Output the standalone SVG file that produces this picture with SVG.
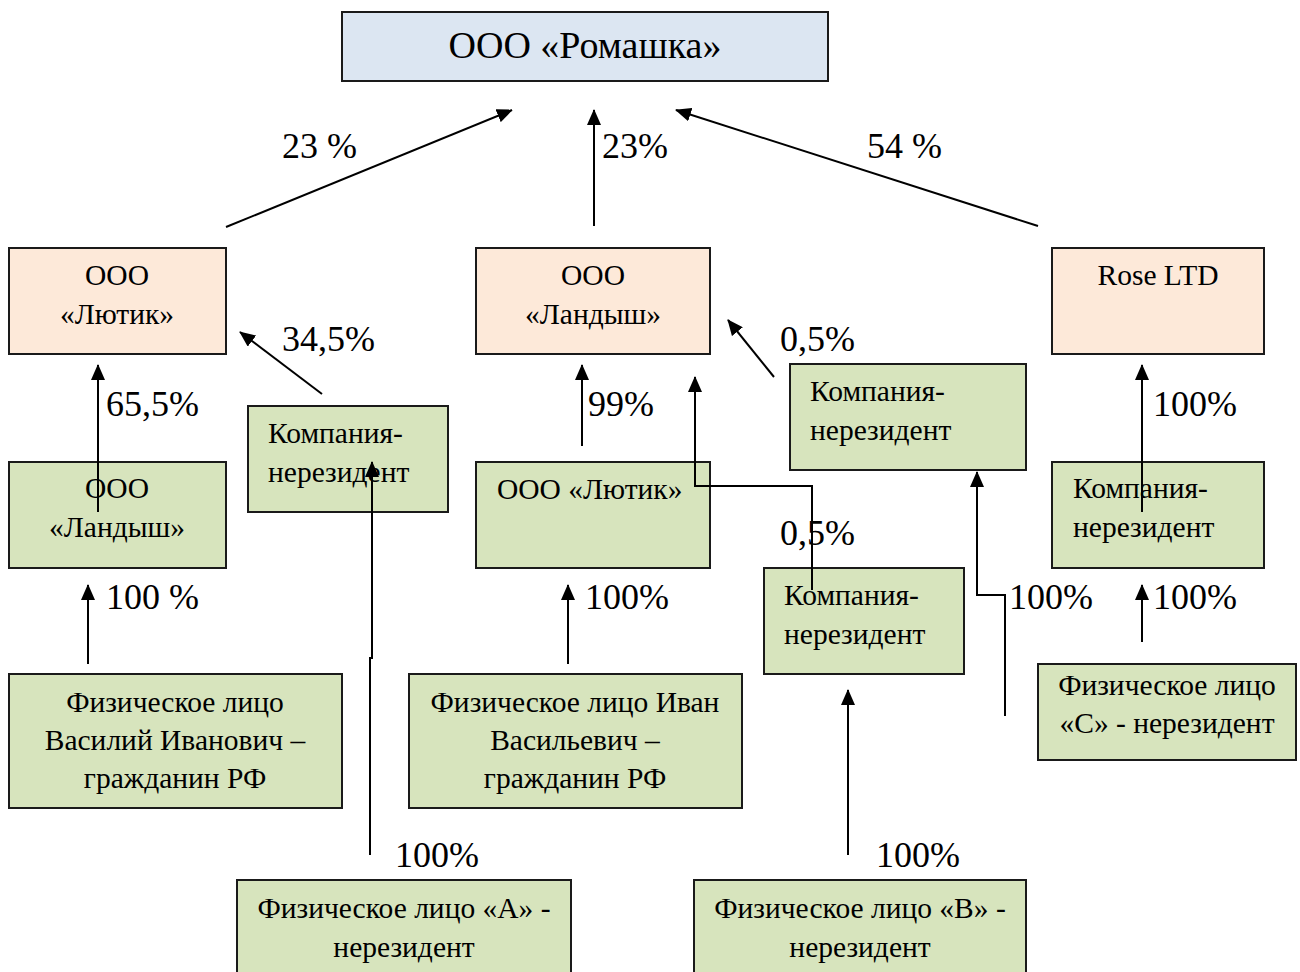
<svg xmlns="http://www.w3.org/2000/svg" width="1300" height="972" viewBox="0 0 1300 972">
<style>
.box{stroke:#1a1a1a;stroke-width:2}
.blue{fill:#dce6f2}
.peach{fill:#fde9d9}
.green{fill:#d7e4bd}
text{font-family:"Liberation Serif","Times New Roman",serif;fill:#000}
.t{font-size:29.5px}
.c{text-anchor:middle}
.pct{font-size:36px}
.big{font-size:38px}
.conn line,.conn polyline{stroke:#000;stroke-width:2;fill:none}
</style>
<defs>
<marker id="ah" markerUnits="userSpaceOnUse" markerWidth="16" markerHeight="14" refX="15" refY="7" orient="auto">
<path d="M0,0 L16,7 L0,14 Z" fill="#000"/>
</marker>
</defs>
<rect width="1300" height="972" fill="#fff"/>

<g id="romashka"><rect class="box blue" x="342" y="12" width="486" height="69"/><text class="big c" x="585" y="58">ООО «Ромашка»</text></g>

<g id="lyutik-top"><rect class="box peach" x="9" y="248" width="217" height="106"/><text class="t c" x="117" y="285">ООО</text><text class="t c" x="117" y="324">«Лютик»</text></g>
<g id="landysh-top"><rect class="box peach" x="476" y="248" width="234" height="106"/><text class="t c" x="593" y="285">ООО</text><text class="t c" x="593" y="324">«Ландыш»</text></g>
<g id="rose"><rect class="box peach" x="1052" y="248" width="212" height="106"/><text class="t c" x="1158" y="285">Rose LTD</text></g>

<g id="landysh-green"><rect class="box green" x="9" y="462" width="217" height="106"/><text class="t c" x="117" y="498">ООО</text><text class="t c" x="117" y="537">«Ландыш»</text></g>
<g id="komp-left"><rect class="box green" x="248" y="406" width="200" height="106"/><text class="t" x="268" y="443">Компания-</text><text class="t" x="268" y="482">нерезидент</text></g>
<g id="lyutik-green"><rect class="box green" x="476" y="462" width="234" height="106"/><text class="t" x="497" y="499">ООО «Лютик»</text></g>
<g id="komp-mid-upper"><rect class="box green" x="790" y="364" width="236" height="106"/><text class="t" x="810" y="401">Компания-</text><text class="t" x="810" y="440">нерезидент</text></g>
<g id="komp-mid-lower"><rect class="box green" x="764" y="568" width="200" height="106"/><text class="t" x="784" y="605">Компания-</text><text class="t" x="784" y="644">нерезидент</text></g>
<g id="komp-right"><rect class="box green" x="1052" y="462" width="212" height="106"/><text class="t" x="1073" y="498">Компания-</text><text class="t" x="1073" y="537">нерезидент</text></g>

<g id="fl-vasiliy"><rect class="box green" x="9" y="674" width="333" height="134"/><text class="t c" x="175" y="712">Физическое лицо</text><text class="t c" x="175" y="750">Василий Иванович –</text><text class="t c" x="175" y="788">гражданин РФ</text></g>
<g id="fl-ivan"><rect class="box green" x="409" y="674" width="333" height="134"/><text class="t c" x="575" y="712">Физическое лицо Иван</text><text class="t c" x="575" y="750">Васильевич –</text><text class="t c" x="575" y="788">гражданин РФ</text></g>
<g id="fl-c"><rect class="box green" x="1038" y="664" width="258" height="96"/><text class="t c" x="1167" y="695">Физическое лицо</text><text class="t c" x="1167" y="733">«С» - нерезидент</text></g>
<g id="fl-a"><rect class="box green" x="237" y="880" width="334" height="100"/><text class="t c" x="404" y="918">Физическое лицо «А» -</text><text class="t c" x="404" y="957">нерезидент</text></g>
<g id="fl-b"><rect class="box green" x="694" y="880" width="332" height="100"/><text class="t c" x="860" y="918">Физическое лицо «В» -</text><text class="t c" x="860" y="957">нерезидент</text></g>

<g id="connectors" class="conn">
<line x1="226" y1="227" x2="512" y2="110" marker-end="url(#ah)"/>
<line x1="594" y1="226" x2="594" y2="110" marker-end="url(#ah)"/>
<line x1="1038" y1="226" x2="676" y2="110" marker-end="url(#ah)"/>
<line x1="98" y1="512" x2="98" y2="365" marker-end="url(#ah)"/>
<line x1="322" y1="394" x2="240" y2="332" marker-end="url(#ah)"/>
<line x1="582" y1="446" x2="582" y2="365" marker-end="url(#ah)"/>
<line x1="774" y1="377" x2="728" y2="320" marker-end="url(#ah)"/>
<polyline points="812,590 812,486 695,486 695,377" marker-end="url(#ah)"/>
<line x1="1142" y1="512" x2="1142" y2="365" marker-end="url(#ah)"/>
<line x1="88" y1="664" x2="88" y2="585" marker-end="url(#ah)"/>
<line x1="568" y1="664" x2="568" y2="585" marker-end="url(#ah)"/>
<polyline points="370,855 370,658 372,658 372,462" marker-end="url(#ah)"/>
<line x1="848" y1="855" x2="848" y2="690" marker-end="url(#ah)"/>
<polyline points="1005,716 1005,595 977,595 977,472" marker-end="url(#ah)"/>
<line x1="1142" y1="642" x2="1142" y2="585" marker-end="url(#ah)"/>
</g>

<g id="labels">
<text class="pct" x="282" y="158">23 %</text>
<text class="pct" x="602" y="158">23%</text>
<text class="pct" x="867" y="158">54 %</text>
<text class="pct" x="282" y="351">34,5%</text>
<text class="pct" x="106" y="416">65,5%</text>
<text class="pct" x="588" y="416">99%</text>
<text class="pct" x="780" y="351">0,5%</text>
<text class="pct" x="780" y="545">0,5%</text>
<text class="pct" x="1153" y="416">100%</text>
<text class="pct" x="106" y="609">100 %</text>
<text class="pct" x="585" y="609">100%</text>
<text class="pct" x="1009" y="609">100%</text>
<text class="pct" x="1153" y="609">100%</text>
<text class="pct" x="395" y="867">100%</text>
<text class="pct" x="876" y="867">100%</text>
</g>
</svg>
